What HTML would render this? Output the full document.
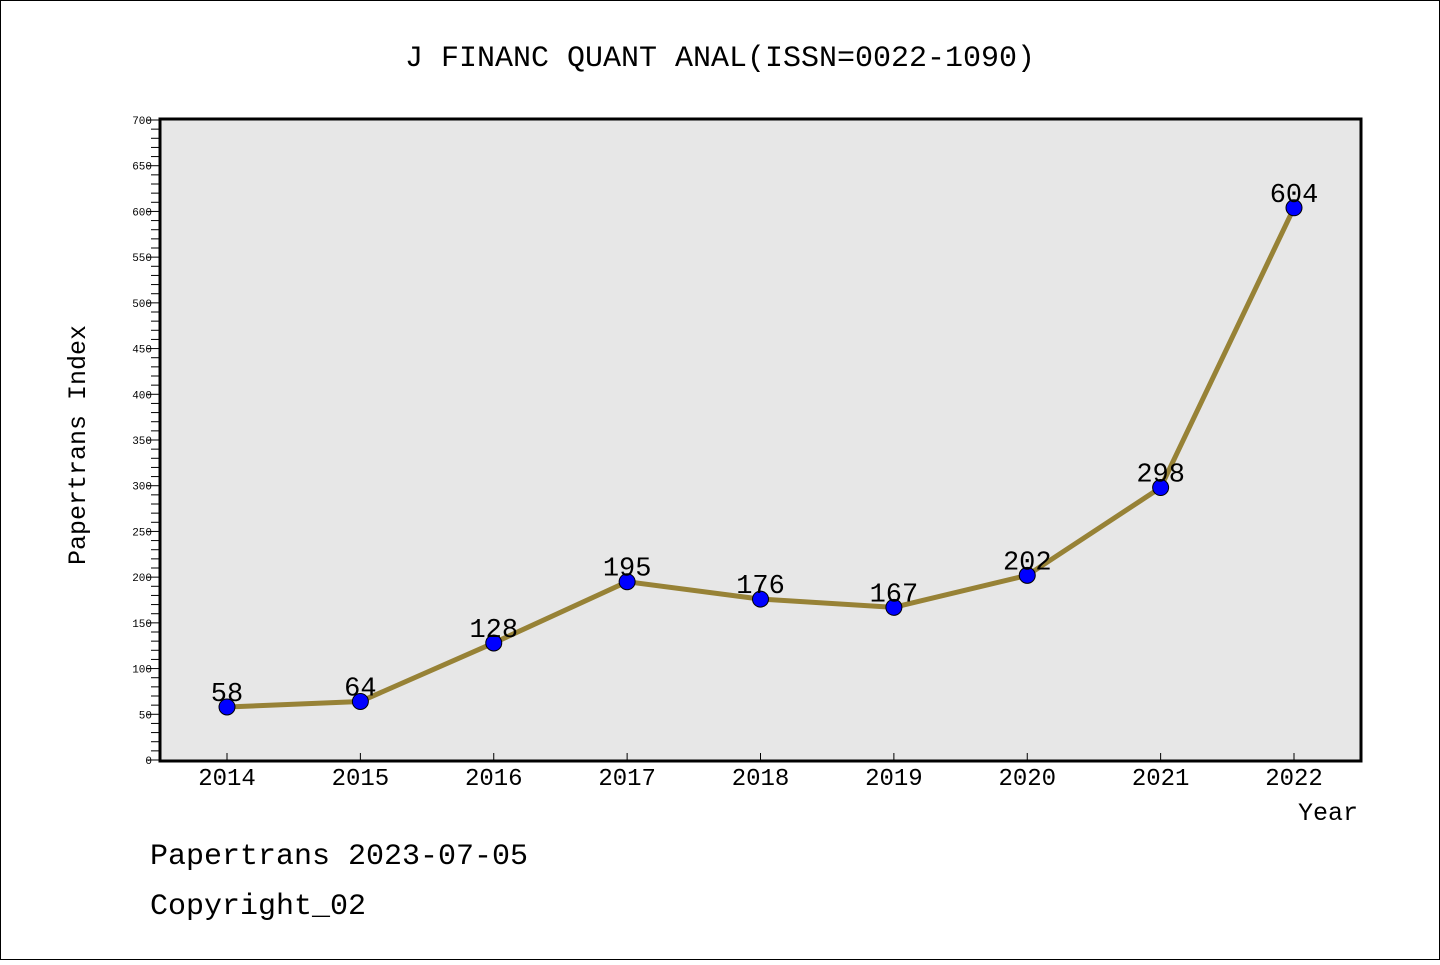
<!DOCTYPE html>
<html><head><meta charset="utf-8"><style>
body{margin:0;background:#fff}
svg text{font-family:"Liberation Mono","DejaVu Sans Mono",monospace}
</style></head><body>
<svg id="c" width="1440" height="960" xmlns="http://www.w3.org/2000/svg">
<rect x="0.5" y="0.5" width="1439" height="959" fill="#fff" stroke="#000"/>
<text x="720" y="66" text-anchor="middle" font-size="30">J FINANC QUANT ANAL(ISSN=0022-1090)</text>
<rect x="160" y="119" width="1201" height="642" fill="#e7e7e7" stroke="#000" stroke-width="3"/>
<g id="yaxis"></g>
<g id="xaxis"></g>
<g id="series"></g>
<text transform="translate(85,445) rotate(-90)" text-anchor="middle" font-size="25">Papertrans Index</text>
<text x="1358" y="820" text-anchor="end" font-size="25">Year</text>
<text x="150" y="864" font-size="30">Papertrans 2023-07-05</text>
<text x="150" y="914" font-size="30">Copyright_02</text>
</svg>
<script>
const years=["2014","2015","2016","2017","2018","2019","2020","2021","2022"];
const values=[58,64,128,195,176,167,202,298,604];
const yTicks=[0,50,100,150,200,250,300,350,400,450,500,550,600,650,700];
const NS="http://www.w3.org/2000/svg";
const yMin=0,yMax=700,plotTop=120,plotBottom=760;
function y(v){return plotBottom-(v-yMin)/(yMax-yMin)*(plotBottom-plotTop);}
function x(i){return 227+i*(1294-227)/(years.length-1);}
function mk(t,a,p){const e=document.createElementNS(NS,t);for(const k in a)e.setAttribute(k,a[k]);p.appendChild(e);return e;}
const ya=document.getElementById('yaxis');
for(let v=yMin;v<=yMax;v+=10){
  const major=v%50===0;
  const l=mk('line',{x1:major?147:151,x2:160,y1:y(v),y2:y(v),stroke:'#000','stroke-width':1},ya);
  
  
}
yTicks.forEach(v=>{
  const t=mk('text',{x:152,y:y(v)+4,'text-anchor':'end','font-size':11,'font-family':'"Liberation Sans",sans-serif'},ya);
  t.textContent=v;
  
  
});
const xa=document.getElementById('xaxis');
years.forEach((yr,i)=>{
  const l=mk('line',{x1:x(i),x2:x(i),y1:753,y2:760,stroke:'#000'},xa);
  
  
  const t=mk('text',{x:x(i),y:785,'text-anchor':'middle','font-size':24,'font-family':'"Liberation Sans",sans-serif'},xa);
  t.textContent=yr;
  
  
});
const s=document.getElementById('series');
const pl=mk('polyline',{points:values.map((v,i)=>x(i)+','+y(v)).join(' '),fill:'none',stroke:'#978236','stroke-width':5,'stroke-linejoin':'round'},s);


values.forEach((v,i)=>{
  const c=mk('circle',{cx:x(i),cy:y(v),r:8,fill:'#0000ff',stroke:'#000','stroke-width':1},s);
  
  
  const t=mk('text',{x:x(i),y:y(v)-6,'text-anchor':'middle','font-size':27,'font-family':'"Liberation Sans",sans-serif'},s);
  t.textContent=v;
  
  
});
</script>
</body></html>
